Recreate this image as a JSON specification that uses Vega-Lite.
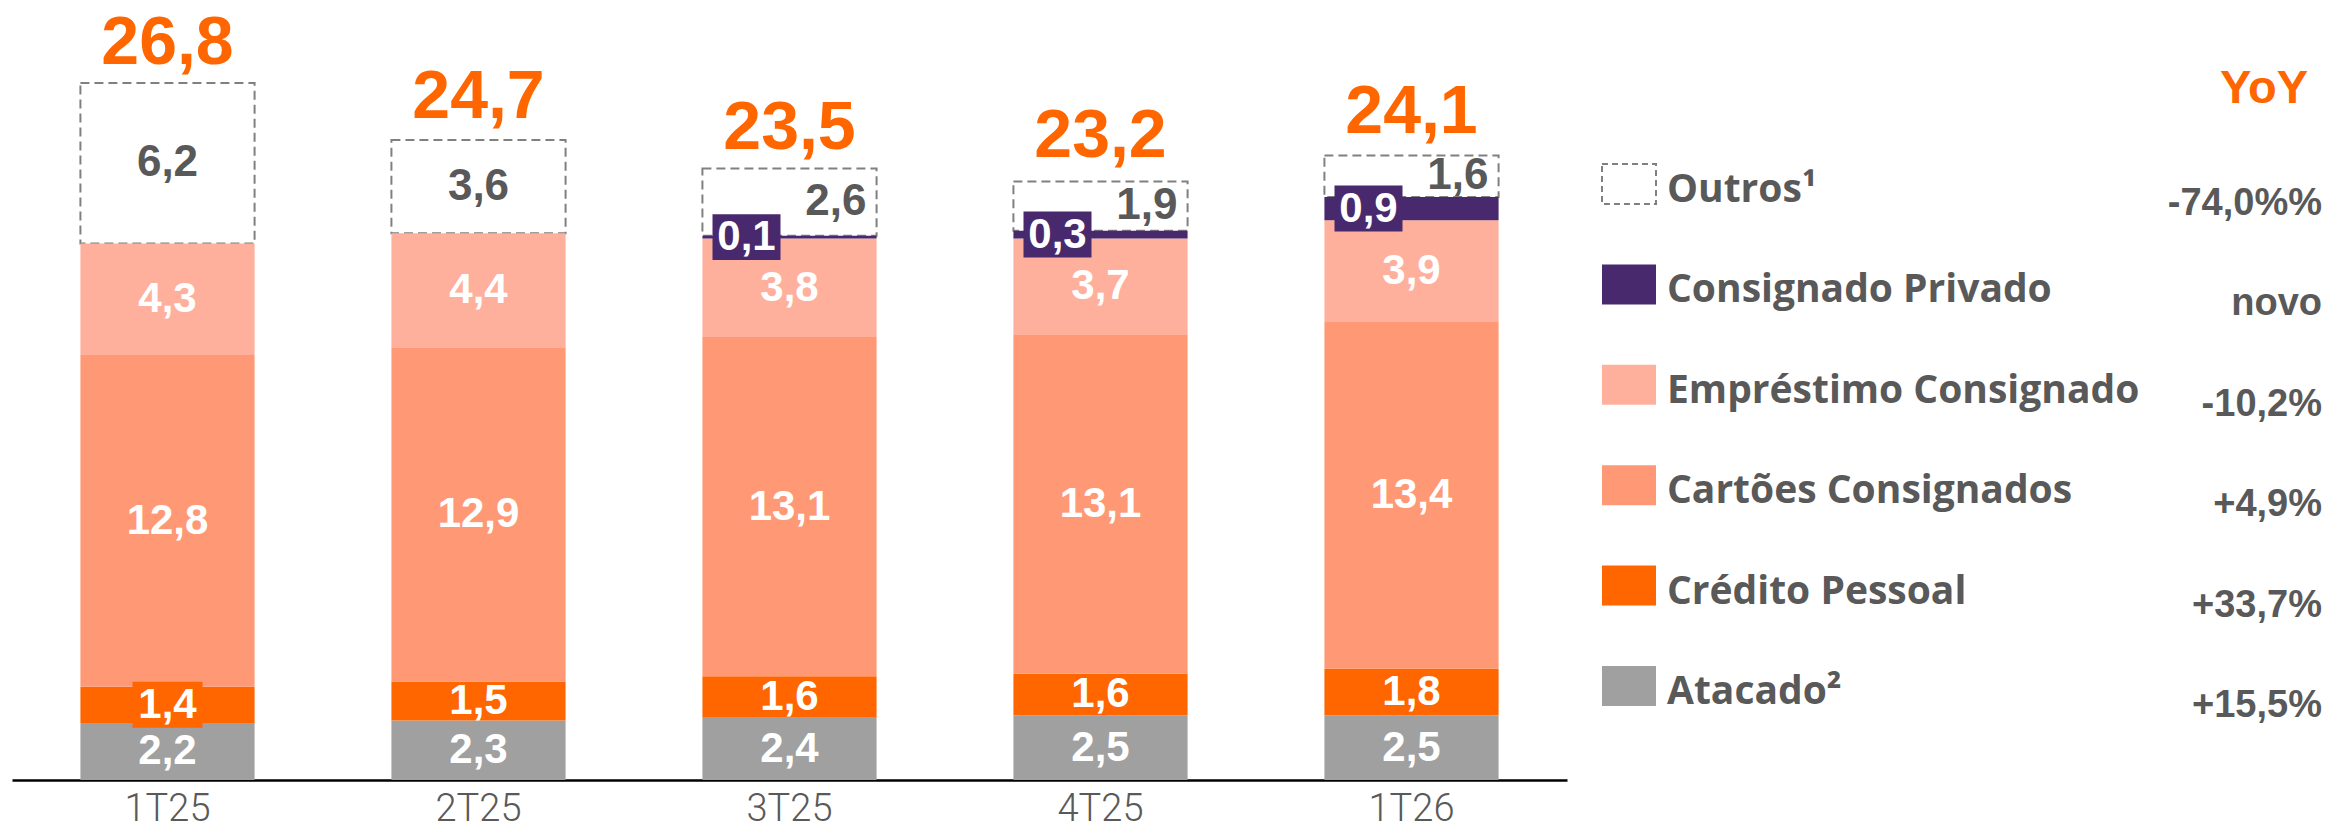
{
  "$schema": "https://vega.github.io/schema/vega-lite/v6.json",
  "background": "white",
  "padding": {"left": 12, "top": 0, "right": 0, "bottom": 0},
  "spacing": 35,
  "bounds": "flush",
  "config": {
    "view": {"stroke": null},
    "locale": {"number": {"decimal": ",", "thousands": ".", "grouping": [3], "currency": ["R$", ""]}}
  },
  "datasets": {
    "seg": [
      {"q": "1T25", "cat": "Outros", "ord": 6, "value": 6.2},
      {"q": "2T25", "cat": "Outros", "ord": 6, "value": 3.6},
      {"q": "3T25", "cat": "Outros", "ord": 6, "value": 2.6},
      {"q": "4T25", "cat": "Outros", "ord": 6, "value": 1.9},
      {"q": "1T26", "cat": "Outros", "ord": 6, "value": 1.6},
      {"q": "1T25", "cat": "Atacado", "ord": 1, "value": 2.2},
      {"q": "1T25", "cat": "Crédito Pessoal", "ord": 2, "value": 1.4},
      {"q": "1T25", "cat": "Cartões Consignados", "ord": 3, "value": 12.8},
      {"q": "1T25", "cat": "Empréstimo Consignado", "ord": 4, "value": 4.3},
      {"q": "2T25", "cat": "Atacado", "ord": 1, "value": 2.3},
      {"q": "2T25", "cat": "Crédito Pessoal", "ord": 2, "value": 1.5},
      {"q": "2T25", "cat": "Cartões Consignados", "ord": 3, "value": 12.9},
      {"q": "2T25", "cat": "Empréstimo Consignado", "ord": 4, "value": 4.4},
      {"q": "3T25", "cat": "Atacado", "ord": 1, "value": 2.4},
      {"q": "3T25", "cat": "Crédito Pessoal", "ord": 2, "value": 1.6},
      {"q": "3T25", "cat": "Cartões Consignados", "ord": 3, "value": 13.1},
      {"q": "3T25", "cat": "Empréstimo Consignado", "ord": 4, "value": 3.8},
      {"q": "3T25", "cat": "Consignado Privado", "ord": 5, "value": 0.1},
      {"q": "4T25", "cat": "Atacado", "ord": 1, "value": 2.5},
      {"q": "4T25", "cat": "Crédito Pessoal", "ord": 2, "value": 1.6},
      {"q": "4T25", "cat": "Cartões Consignados", "ord": 3, "value": 13.1},
      {"q": "4T25", "cat": "Empréstimo Consignado", "ord": 4, "value": 3.7},
      {"q": "4T25", "cat": "Consignado Privado", "ord": 5, "value": 0.3},
      {"q": "1T26", "cat": "Atacado", "ord": 1, "value": 2.5},
      {"q": "1T26", "cat": "Crédito Pessoal", "ord": 2, "value": 1.8},
      {"q": "1T26", "cat": "Cartões Consignados", "ord": 3, "value": 13.4},
      {"q": "1T26", "cat": "Empréstimo Consignado", "ord": 4, "value": 3.9},
      {"q": "1T26", "cat": "Consignado Privado", "ord": 5, "value": 0.9}
    ],
    "tot": [
      {"q": "1T25", "total": 26.8},
      {"q": "2T25", "total": 24.7},
      {"q": "3T25", "total": 23.5},
      {"q": "4T25", "total": 23.2},
      {"q": "1T26", "total": 24.1}
    ],
    "leg": [
      {"cat": "Outros", "name": "Outros¹", "yoy": "-74,0%%"},
      {"cat": "Consignado Privado", "name": "Consignado Privado", "yoy": "novo"},
      {"cat": "Empréstimo Consignado", "name": "Empréstimo Consignado", "yoy": "-10,2%"},
      {"cat": "Cartões Consignados", "name": "Cartões Consignados", "yoy": "+4,9%"},
      {"cat": "Crédito Pessoal", "name": "Crédito Pessoal", "yoy": "+33,7%"},
      {"cat": "Atacado", "name": "Atacado²", "yoy": "+15,5%"}
    ]
  },
  "hconcat": [
    {
      "width": 1555,
      "height": 780,
      "encoding": {
        "x": {
          "field": "q", "type": "nominal",
          "sort": ["1T25", "2T25", "3T25", "4T25", "1T26"],
          "scale": {"paddingInner": 0.44, "paddingOuter": 0.22},
          "axis": {
            "title": null, "domainColor": "#000000", "domainWidth": 2.5, "ticks": false,
            "labelFontSize": 38, "labelColor": "#595959", "labelFont": "Roboto",
            "labelFontWeight": 300, "labelPadding": 10, "labelAngle": 0, "grid": false
          }
        }
      },
      "layer": [
        {
          "data": {"name": "seg"},
          "mark": {"type": "bar", "strokeWidth": 2},
          "encoding": {
            "y": {"field": "value", "type": "quantitative", "stack": "zero", "scale": {"domain": [0, 30.1], "nice": false}, "axis": null},
            "color": {
              "field": "cat", "type": "nominal", "legend": null,
              "scale": {
                "domain": ["Outros", "Consignado Privado", "Empréstimo Consignado", "Cartões Consignados", "Crédito Pessoal", "Atacado"],
                "range": ["#FFFFFF", "#48296E", "#FFB09D", "#FF9874", "#FF6600", "#A0A0A0"]
              }
            },
            "order": {"field": "ord", "type": "quantitative"},
            "stroke": {"condition": {"test": "datum.cat === 'Outros'", "value": "#808080"}, "value": "transparent"},
            "strokeDash": {"condition": {"test": "datum.cat === 'Outros'", "value": [9, 5]}, "value": [1, 0]}
          }
        },
        {
          "data": {"name": "seg"},
          "mark": {"type": "point", "shape": "M-1,-0.657H1V0.657H-1Z", "size": 4900, "filled": true, "color": "#FF6600", "strokeWidth": 0},
          "encoding": {
            "y": {"field": "value", "type": "quantitative", "stack": "zero", "bandPosition": 0.5},
            "detail": {"field": "cat"},
            "order": {"field": "ord", "type": "quantitative"},
            "opacity": {"condition": {"test": "datum.cat === 'Crédito Pessoal' && datum.q === '1T25'", "value": 1}, "value": 0}
          }
        },
        {
          "data": {"name": "seg"},
          "mark": {"type": "point", "shape": "M-1,-0.676H1V0.676H-1Z", "size": 4624, "filled": true, "color": "#48296E", "strokeWidth": 0, "xOffset": -43},
          "encoding": {
            "y": {"field": "value", "type": "quantitative", "stack": "zero", "bandPosition": 0.5},
            "detail": {"field": "cat"},
            "order": {"field": "ord", "type": "quantitative"},
            "opacity": {"condition": {"test": "datum.cat === 'Consignado Privado'", "value": 1}, "value": 0}
          }
        },
        {
          "data": {"name": "seg"},
          "mark": {"type": "text", "font": "Liberation Sans", "fontWeight": "bold", "fontSize": 42, "color": "#FFFFFF", "baseline": "middle"},
          "encoding": {
            "y": {"field": "value", "type": "quantitative", "stack": "zero", "bandPosition": 0.5},
            "detail": {"field": "cat"},
            "order": {"field": "ord", "type": "quantitative"},
            "text": {"condition": {"test": "datum.ord <= 4", "field": "value", "type": "quantitative", "format": ".1f"}, "value": ""}
          }
        },
        {
          "data": {"name": "seg"},
          "mark": {"type": "text", "font": "Liberation Sans", "fontWeight": "bold", "fontSize": 42, "color": "#FFFFFF", "baseline": "middle", "dx": -43},
          "encoding": {
            "y": {"field": "value", "type": "quantitative", "stack": "zero", "bandPosition": 0.5},
            "detail": {"field": "cat"},
            "order": {"field": "ord", "type": "quantitative"},
            "text": {"condition": {"test": "datum.cat === 'Consignado Privado'", "field": "value", "type": "quantitative", "format": ".1f"}, "value": ""}
          }
        },
        {
          "data": {"name": "seg"},
          "mark": {"type": "text", "font": "Liberation Sans", "fontWeight": "bold", "fontSize": 44, "color": "#595959", "baseline": "middle"},
          "encoding": {
            "y": {"field": "value", "type": "quantitative", "stack": "zero", "bandPosition": 0.5},
            "detail": {"field": "cat"},
            "order": {"field": "ord", "type": "quantitative"},
            "text": {"condition": {"test": "datum.cat === 'Outros' && (datum.q === '1T25' || datum.q === '2T25')", "field": "value", "type": "quantitative", "format": ".1f"}, "value": ""}
          }
        },
        {
          "data": {"name": "seg"},
          "mark": {"type": "text", "font": "Liberation Sans", "fontWeight": "bold", "fontSize": 44, "color": "#595959", "baseline": "middle", "align": "right", "dx": 77},
          "encoding": {
            "y": {"field": "value", "type": "quantitative", "stack": "zero", "bandPosition": 0.5},
            "detail": {"field": "cat"},
            "order": {"field": "ord", "type": "quantitative"},
            "text": {"condition": {"test": "datum.cat === 'Outros' && datum.q !== '1T25' && datum.q !== '2T25'", "field": "value", "type": "quantitative", "format": ".1f"}, "value": ""}
          }
        },
        {
          "data": {"name": "tot"},
          "mark": {"type": "text", "font": "Liberation Sans", "fontWeight": "bold", "fontSize": 68, "color": "#FF6600", "baseline": "alphabetic", "dy": -22},
          "encoding": {
            "y": {"field": "total", "type": "quantitative"},
            "text": {"field": "total", "type": "quantitative", "format": ".1f"}
          }
        }
      ]
    },
    {
      "width": 720,
      "height": 780,
      "encoding": {
        "y": {
          "field": "cat", "type": "nominal", "axis": null,
          "scale": {"type": "point", "padding": 0, "domain": ["Outros", "Consignado Privado", "Empréstimo Consignado", "Cartões Consignados", "Crédito Pessoal", "Atacado"], "range": [184, 686]}
        }
      },
      "layer": [
        {
          "data": {"name": "leg"},
          "mark": {"type": "point", "shape": "M-1,-0.74H1V0.74H-1Z", "size": 2916, "filled": true, "opacity": 1, "strokeWidth": 2, "xOffset": 27},
          "encoding": {
            "x": {"datum": "L", "type": "nominal", "scale": {"type": "point", "domain": ["L", "R"], "padding": 0}, "axis": null},
            "color": {
              "field": "cat", "type": "nominal", "legend": null,
              "scale": {
                "domain": ["Outros", "Consignado Privado", "Empréstimo Consignado", "Cartões Consignados", "Crédito Pessoal", "Atacado"],
                "range": ["#FFFFFF", "#48296E", "#FFB09D", "#FF9874", "#FF6600", "#A0A0A0"]
              }
            },
            "stroke": {"condition": {"test": "datum.cat === 'Outros'", "value": "#808080"}, "value": "transparent"},
            "strokeDash": {"condition": {"test": "datum.cat === 'Outros'", "value": [6, 4]}, "value": [1, 0]}
          }
        },
        {
          "data": {"name": "leg"},
          "mark": {"type": "text", "font": "Open Sans", "fontWeight": "bold", "fontSize": 39, "color": "#595959", "align": "left", "baseline": "middle", "dx": 65, "dy": 6},
          "encoding": {
            "x": {"datum": "L", "type": "nominal"},
            "text": {"field": "name"}
          }
        },
        {
          "data": {"name": "leg"},
          "mark": {"type": "text", "font": "Liberation Sans", "fontWeight": "bold", "fontSize": 38, "color": "#595959", "align": "right", "baseline": "middle", "dy": 20},
          "encoding": {
            "x": {"datum": "R", "type": "nominal"},
            "text": {"field": "yoy"}
          }
        },
        {
          "data": {"values": [{"h": "YoY"}]},
          "mark": {"type": "text", "font": "Liberation Sans", "fontWeight": "bold", "fontSize": 47, "color": "#FF6600", "align": "right", "baseline": "middle", "dx": -14, "dy": -95},
          "encoding": {
            "x": {"datum": "R", "type": "nominal"},
            "y": {"datum": "Outros", "type": "nominal"},
            "text": {"field": "h"}
          }
        }
      ]
    }
  ]
}
